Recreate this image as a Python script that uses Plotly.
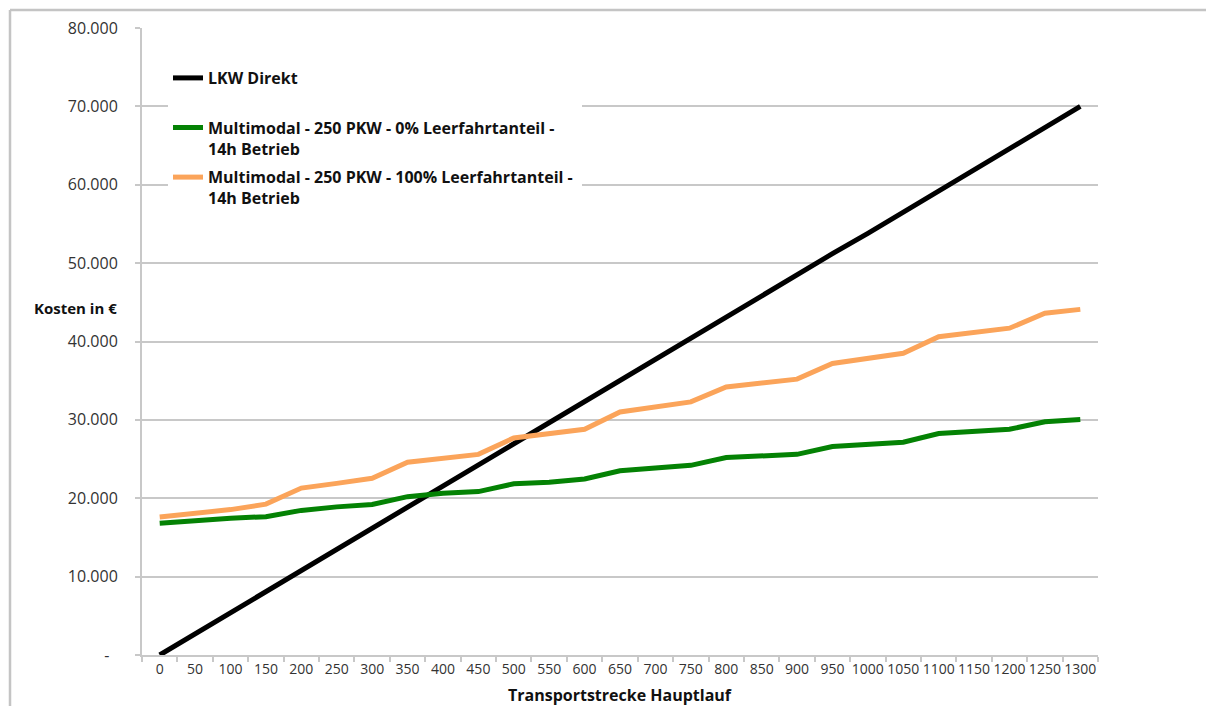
import plotly.graph_objects as go

# Transport distance of the main leg (km), one category per 50 km
distances = ["0", "50", "100", "150", "200", "250", "300", "350", "400", "450",
             "500", "550", "600", "650", "700", "750", "800", "850", "900", "950",
             "1000", "1050", "1100", "1150", "1200", "1250", "1300"]

# Costs in EUR
lkw_direkt = [0, 2700, 5400, 8100, 10800, 13500, 16200, 18800, 21500, 24200,
              26900, 29600, 32300, 35000, 37700, 40400, 43100, 45800, 48500, 51200,
              53800, 56500, 59200, 61900, 64600, 67300, 70000]
multimodal_0 = [16800, 17200, 17450, 17650, 18450, 18900, 19200, 20200, 20650, 20850,
                21850, 22050, 22450, 23500, 23800, 24200, 25200, 25400, 25600, 26600,
                26900, 27150, 28250, 28600, 28800, 29750, 30050]
multimodal_100 = [17600, 18000, 18550, 19250, 21300, 21900, 22550, 24600, 25100, 25600,
                  27700, 28200, 28800, 31000, 31600, 32300, 34200, 34700, 35200, 37200,
                  37900, 38500, 40600, 41100, 41700, 43600, 44100]

series_names = [
    "LKW Direkt<br>\u00a0",
    "Multimodal - 250 PKW - 0% Leerfahrtanteil -<br>14h Betrieb",
    "Multimodal - 250 PKW - 100% Leerfahrtanteil -\u00a0<br>14h Betrieb",
]
series_colors = ["#000000", "#048204", "#FBA45A"]

y_tickvals = [0, 10000, 20000, 30000, 40000, 50000, 60000, 70000, 80000]
y_ticktext = ["-\u00a0\u00a0", "10.000", "20.000", "30.000", "40.000",
              "50.000", "60.000", "70.000", "80.000"]

GRID = "#c8c8c8"
W, H = 1206, 706
L, R, T, B = 142, 1098, 28, 655  # plot area in pixels


def px_x(px):
    return (px - L) / (R - L)


def px_y(py):
    return (B - py) / (B - T)


fig = go.Figure()
for name, vals, col in zip(series_names, [lkw_direkt, multimodal_0, multimodal_100], series_colors):
    fig.add_trace(go.Scatter(
        x=distances, y=vals, name=name, mode="lines",
        line=dict(color=col, width=5),
        legendgroup=name,
    ))

fig.update_layout(
    width=W, height=H,
    margin=dict(l=L, r=W - R, t=T, b=H - B),
    plot_bgcolor="white", paper_bgcolor="white",
    font=dict(family="Open Sans, sans-serif", color="#222222"),
    showlegend=True,
    legend=dict(
        x=px_x(168), y=px_y(61), xanchor="left", yanchor="top",
        bgcolor="white", borderwidth=0,
        font=dict(family="Open Sans, sans-serif", size=16, color="#111111", weight="bold"),
        valign="top", traceorder="grouped", tracegroupgap=5,
        itemwidth=30,
    ),
    xaxis=dict(
        type="category",
        range=[-0.5, len(distances) - 0.5],
        tickson="boundaries",
        ticks="outside", ticklen=5, tickcolor=GRID, tickwidth=1.5,
        showline=True, linecolor=GRID, linewidth=2,
        showgrid=False, tickangle=0, automargin=False,
        tickfont=dict(family="Open Sans, sans-serif", size=14, color="#333333"),
        fixedrange=True,
    ),
    yaxis=dict(
        range=[0, 80000],
        tickvals=y_tickvals, ticktext=y_ticktext,
        ticks="outside", ticklen=5, tickcolor=GRID, tickwidth=1.5,
        showline=True, linecolor=GRID, linewidth=2,
        showgrid=True, gridcolor=GRID, gridwidth=2,
        zeroline=False, automargin=False,
        tickfont=dict(family="Open Sans, sans-serif", size=16, color="#333333"),
        ticklabelstandoff=14,
        fixedrange=True,
    ),
    annotations=[
        dict(text="<b>Kosten in €</b>", xref="paper", yref="paper",
             x=px_x(119), y=px_y(308), xanchor="right", yanchor="middle",
             showarrow=False,
             font=dict(family="Open Sans, sans-serif", size=15, color="#111111")),
        dict(text="<b>Transportstrecke Hauptlauf</b>", xref="paper", yref="paper",
             x=0.5, y=px_y(695), xanchor="center", yanchor="middle",
             showarrow=False,
             font=dict(family="Open Sans, sans-serif", size=16, color="#111111")),
    ],
    shapes=[
        dict(type="line", xref="paper", yref="paper",
             x0=px_x(10), x1=px_x(10), y0=px_y(10), y1=px_y(720),
             line=dict(color="#c4c4c4", width=2.5)),
        dict(type="line", xref="paper", yref="paper",
             x0=px_x(10), x1=px_x(1220), y0=px_y(10), y1=px_y(10),
             line=dict(color="#c4c4c4", width=2.5)),
    ],
)

fig.write_html("out.html")
